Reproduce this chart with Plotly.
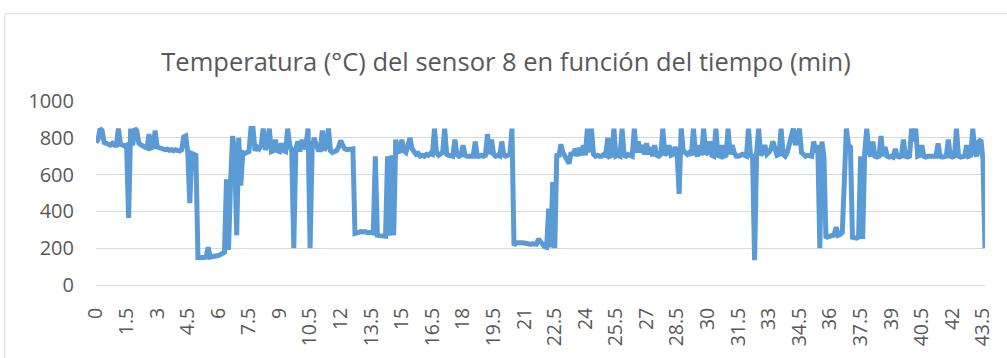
import plotly.graph_objects as go

# Muestreo del sensor 8: una lectura cada 0.1 min, de 0 a 43.6 min
paso_min = 0.1

temperatura = [
    775, 790, 850, 840, 775, 770, 765, 760, 770, 760,   # 0.0 - 0.9
    760, 850, 765, 760, 755, 760, 365, 850, 760, 850,   # 1.0 - 1.9
    840, 770, 760, 755, 750, 745, 820, 745, 750, 840,   # 2.0 - 2.9
    750, 745, 740, 740, 735, 738, 732, 735, 730, 735,   # 3.0 - 3.9
    732, 728, 735, 805, 810, 720, 445, 715, 710, 705,   # 4.0 - 4.9
    150, 148, 150, 150, 152, 205, 152, 153, 155, 155,   # 5.0 - 5.9
    160, 165, 170, 178, 575, 190, 560, 810, 720, 270,   # 6.0 - 6.9
    800, 540, 720, 715, 720, 725, 850, 850, 730, 750,   # 7.0 - 7.9
    740, 760, 850, 735, 760, 850, 725, 730, 790, 730,   # 8.0 - 8.9
    725, 770, 730, 725, 850, 760, 730, 200, 740, 780,   # 9.0 - 9.9
    725, 790, 740, 760, 850, 200, 740, 800, 760, 735,   # 10.0 - 10.9
    735, 840, 730, 760, 850, 730, 720, 725, 730, 750,   # 11.0 - 11.9
    785, 760, 740, 735, 735, 740, 740, 280, 285, 285,   # 12.0 - 12.9
    290, 288, 290, 285, 287, 285, 283, 700, 270, 268,   # 13.0 - 13.9
    265, 262, 265, 700, 268, 705, 270, 790, 730, 720,   # 14.0 - 14.9
    790, 730, 720, 760, 800, 740, 720, 710, 715, 700,   # 15.0 - 15.9
    705, 700, 710, 705, 715, 710, 850, 720, 705, 710,   # 16.0 - 16.9
    720, 850, 710, 705, 700, 700, 790, 710, 700, 705,   # 17.0 - 17.9
    760, 705, 700, 700, 705, 700, 780, 700, 700, 705,   # 18.0 - 18.9
    700, 705, 820, 710, 790, 710, 700, 705, 700, 780,   # 19.0 - 19.9
    705, 700, 705, 710, 850, 215, 230, 232, 228, 230,   # 20.0 - 20.9
    228, 225, 226, 222, 224, 220, 222, 250, 235, 212,   # 21.0 - 21.9
    208, 205, 415, 205, 560, 200, 715, 695, 765, 720,   # 22.0 - 22.9
    700, 690, 660, 720, 705, 740, 700, 745, 705, 760,   # 23.0 - 23.9
    705, 850, 720, 850, 710, 700, 705, 700, 700, 710,   # 24.0 - 24.9
    705, 800, 700, 705, 850, 700, 705, 700, 850, 705,   # 25.0 - 25.9
    700, 710, 705, 700, 850, 720, 780, 720, 760, 710,   # 26.0 - 26.9
    770, 710, 750, 700, 760, 705, 700, 710, 850, 705,   # 27.0 - 27.9
    720, 760, 705, 710, 750, 720, 495, 850, 730, 720,   # 28.0 - 28.9
    710, 720, 705, 850, 720, 700, 760, 705, 850, 710,   # 29.0 - 29.9
    720, 780, 705, 700, 850, 705, 700, 760, 700, 705,   # 30.0 - 30.9
    850, 710, 760, 720, 700, 700, 705, 710, 705, 700,   # 31.0 - 31.9
    850, 705, 700, 135, 720, 850, 705, 720, 760, 710,   # 32.0 - 32.9
    720, 740, 780, 730, 705, 710, 850, 710, 700, 720,   # 33.0 - 33.9
    760, 790, 850, 760, 800, 850, 720, 705, 700, 705,   # 34.0 - 34.9
    705, 700, 780, 720, 760, 200, 780, 700, 255, 265,   # 35.0 - 35.9
    265, 268, 272, 315, 270, 275, 285, 560, 850, 760,   # 36.0 - 36.9
    750, 260, 258, 255, 260, 700, 250, 720, 850, 720,   # 37.0 - 37.9
    700, 780, 700, 695, 700, 810, 700, 750, 700, 695,   # 38.0 - 38.9
    700, 695, 740, 700, 695, 700, 790, 700, 695, 700,   # 39.0 - 39.9
    850, 780, 850, 700, 705, 760, 700, 695, 700, 700,   # 40.0 - 40.9
    695, 700, 700, 770, 700, 695, 700, 700, 790, 700,   # 41.0 - 41.9
    695, 700, 850, 700, 695, 700, 700, 760, 700, 705,   # 42.0 - 42.9
    850, 720, 700, 780, 790, 680, 200,                  # 43.0 - 43.6
]

tiempo = [round(i * paso_min, 1) for i in range(len(temperatura))]

x_ticks = [0, 1.5, 3, 4.5, 6, 7.5, 9, 10.5, 12, 13.5, 15, 16.5, 18, 19.5, 21,
           22.5, 24, 25.5, 27, 28.5, 30, 31.5, 33, 34.5, 36, 37.5, 39, 40.5,
           42, 43.5]
x_tick_text = ["0", "1.5", "3", "4.5", "6", "7.5", "9", "10.5", "12", "13.5",
               "15", "16.5", "18", "19.5", "21", "22.5", "24", "25.5", "27",
               "28.5", "30", "31.5", "33", "34.5", "36", "37.5", "39", "40.5",
               "42", "43.5"]
y_ticks = [0, 200, 400, 600, 800, 1000]

FONT = "Open Sans"
TEXT_GRAY = "#595959"
GRID_GRAY = "#D9D9D9"

fig = go.Figure(
    go.Scatter(
        x=tiempo,
        y=temperatura,
        mode="lines",
        line=dict(color="#5B9BD5", width=5),
        hoverinfo="x+y",
    )
)

W, H = 1007, 358
ML, MR, MT, MB = 96, 15, 101, 67
pw, ph = W - ML - MR, H - MT - MB


def px_to_paper_x(px):
    return (px - ML) / pw


def px_to_paper_y(py):
    return (H - MB - py) / ph


fig.update_layout(
    width=W,
    height=H,
    margin=dict(l=ML, r=MR, t=MT, b=MB, pad=0),
    paper_bgcolor="white",
    plot_bgcolor="white",
    showlegend=False,
    font=dict(family=FONT, color=TEXT_GRAY),
    title=dict(
        text="Temperatura (°C) del sensor 8 en función del tiempo (min)",
        font=dict(family=FONT, size=25.5, color=TEXT_GRAY),
        xref="container", yref="container",
        x=506 / W, y=1 - 62 / H,
        xanchor="center", yanchor="middle",
    ),
    xaxis=dict(
        range=[0, tiempo[-1]],
        tickmode="array",
        tickvals=x_ticks,
        ticktext=x_tick_text,
        tickangle=-90,
        tickfont=dict(family=FONT, size=19.5, color=TEXT_GRAY),
        showgrid=False,
        zeroline=False,
        showline=True,
        linecolor=GRID_GRAY,
        linewidth=1,
        ticks="",
        ticklabelstandoff=14,
    ),
    yaxis=dict(
        range=[0, 1000],
        tickmode="array",
        tickvals=y_ticks,
        tickfont=dict(family=FONT, size=20, color=TEXT_GRAY),
        showgrid=True,
        gridcolor=GRID_GRAY,
        gridwidth=1,
        zeroline=False,
        showline=False,
        ticks="",
        ticklabelstandoff=21,
    ),
    shapes=[
        # marco exterior del gráfico
        dict(
            type="rect", xref="paper", yref="paper",
            x0=px_to_paper_x(4), x1=px_to_paper_x(W + 20),
            y0=px_to_paper_y(H + 20), y1=px_to_paper_y(11),
            line=dict(color=GRID_GRAY, width=1),
            fillcolor="rgba(0,0,0,0)",
            layer="below",
        )
    ],
)

fig.write_html("out.html")
